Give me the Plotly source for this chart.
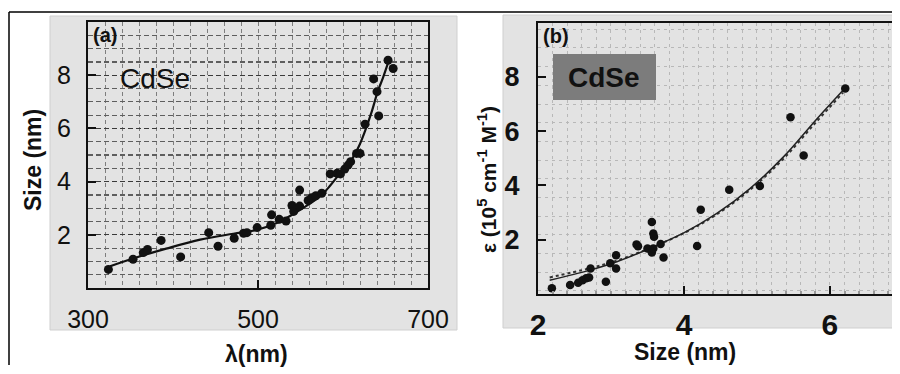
import plotly.graph_objects as go

# ---------------- data: panel (a) ----------------
wavelength_a = [324, 353, 365, 370, 386, 409, 442, 453, 472, 483, 487, 499, 515, 516,
                525, 533, 540, 542, 549, 549, 559, 563, 568, 575, 585, 593, 597, 602,
                606, 609, 616, 620, 626, 642, 636, 640, 653, 659]
size_a = [0.70, 1.08, 1.33, 1.45, 1.79, 1.17, 2.08, 1.57, 1.87, 2.06, 2.08, 2.27, 2.36, 2.75,
          2.58, 2.52, 3.10, 2.88, 3.08, 3.68, 3.29, 3.39, 3.47, 3.56, 4.29, 4.31, 4.29, 4.47,
          4.62, 4.75, 5.06, 5.06, 6.16, 6.47, 7.86, 7.38, 8.56, 8.25]
fit_wl_a = [326, 353, 392, 432, 471, 499, 522, 542, 561, 575, 585, 596, 608, 618, 626, 634,
            641, 647, 653]
fit_size_a = [0.82, 1.11, 1.48, 1.82, 2.04, 2.19, 2.44, 2.79, 3.17, 3.50, 3.85, 4.29, 4.72,
              5.28, 5.91, 6.65, 7.40, 7.90, 8.46]

# ---------------- data: panel (b) ----------------
size_b = [2.19, 2.44, 2.55, 2.61, 2.66, 2.70, 2.72, 2.93, 2.99, 3.07, 3.07, 3.35, 3.37, 3.50,
          3.56, 3.58, 3.59, 3.56, 3.58, 3.68, 3.72, 4.18, 4.23, 4.62, 5.04, 5.46, 5.64, 6.21]
eps_b = [0.20, 0.32, 0.40, 0.50, 0.57, 0.60, 0.93, 0.44, 1.12, 1.42, 0.93, 1.82, 1.75, 1.67,
         2.65, 2.22, 2.10, 1.52, 1.67, 1.83, 1.34, 1.76, 3.10, 3.84, 3.97, 6.51, 5.10, 7.57]
fit_size_b = [2.16, 2.71, 3.08, 3.53, 4.01, 4.45, 4.90, 5.36, 5.82, 6.18]
fit_eps_b = [0.50, 0.87, 1.18, 1.67, 2.26, 2.96, 3.87, 5.04, 6.45, 7.51]
fit2_eps_b = [0.60, 0.94, 1.22, 1.68, 2.25, 2.93, 3.82, 4.97, 6.36, 7.42]

# the page body has an 8px default margin; the figure fills the rest of the 900x374 window
OFF = 8
W, H = 900 - OFF, 374 - OFF
def px(x):
    return max(0.0, (x - OFF) / W)
def py(y):
    return min(1.0, 1 - (y - OFF) / H)

FONT = "Liberation Sans, Arial, sans-serif"

fig = go.Figure()

# panel (a)
fig.add_trace(go.Scatter(x=fit_wl_a, y=fit_size_a, mode="lines",
                         line=dict(color="#111111", width=2.2, shape="spline"),
                         xaxis="x", yaxis="y", hoverinfo="skip"))
fig.add_trace(go.Scatter(x=wavelength_a, y=size_a, mode="markers",
                         marker=dict(color="#111111", size=9),
                         xaxis="x", yaxis="y"))
# panel (b)
fig.add_trace(go.Scatter(x=fit_size_b, y=fit2_eps_b, mode="lines",
                         line=dict(color="#333333", width=2, dash="dot", shape="spline"),
                         xaxis="x2", yaxis="y2", hoverinfo="skip"))
fig.add_trace(go.Scatter(x=fit_size_b, y=fit_eps_b, mode="lines",
                         line=dict(color="#222222", width=1.5, shape="spline"),
                         xaxis="x2", yaxis="y2", hoverinfo="skip"))
fig.add_trace(go.Scatter(x=size_b, y=eps_b, mode="markers",
                         marker=dict(color="#111111", size=8.5),
                         xaxis="x2", yaxis="y2"))

axis_common = dict(showline=True, mirror=True, linecolor="#111111", linewidth=2,
                   ticks="inside", ticklen=8, tickwidth=2, tickcolor="#111111",
                   zeroline=False, layer="above traces", automargin=False,
                   fixedrange=True)

fig.update_layout(
    template="none",
    autosize=False,
    width=W, height=H, margin=dict(l=0, r=0, t=0, b=0, pad=0, autoexpand=False),
    font=dict(family=FONT, color="#111111"),
    paper_bgcolor="white", plot_bgcolor="#e8e8e8", showlegend=False,
    xaxis=dict(axis_common, domain=[px(88), px(428)], range=[300, 700], anchor="y",
               tickvals=[300, 500, 700], tickfont=dict(family=FONT, size=25, color="#111111"),
               ticklabelstandoff=8,
               showgrid=True, gridcolor="#7e7e7e", griddash="4px,3px", gridwidth=1,
               minor=dict(dtick=20, tick0=300, showgrid=True, gridcolor="#7e7e7e",
                          griddash="4px,3px", gridwidth=1, ticks="")),
    yaxis=dict(axis_common, domain=[py(288), py(22)], range=[0, 10], anchor="x",
               tickvals=[2, 4, 6, 8], tickfont=dict(family=FONT, size=25, color="#111111"),
               ticklabelstandoff=10,
               showgrid=True, gridcolor="#3a3a3a", griddash="5px,3px", gridwidth=1.3,
               minor=dict(dtick=0.5, tick0=0, showgrid=True, gridcolor="#5e5e5e",
                          griddash="5px,3px", gridwidth=1.2, ticks="")),
    xaxis2=dict(axis_common, domain=[px(538), 1.0], range=[2, 6.96], anchor="y2",
                tickvals=[2, 4, 6],
                tickfont=dict(family=FONT, size=30, color="#111111", weight="bold"),
                ticklabelstandoff=3,
                showgrid=False,
                minor=dict(dtick=0.2, tick0=2, showgrid=True, gridcolor="#b8b8b8",
                           griddash="3px,4px", gridwidth=1, ticks="inside", ticklen=3,
                           tickcolor="#999999")),
    yaxis2=dict(axis_common, domain=[py(293.7), py(22.7)], range=[0, 10], anchor="x2",
                tickvals=[2, 4, 6, 8],
                tickfont=dict(family=FONT, size=27, color="#111111", weight="bold"),
                ticklabelstandoff=11,
                showgrid=False,
                minor=dict(dtick=0.69, tick0=0.1, showgrid=True, gridcolor="#b8b8b8",
                           griddash="3px,4px", gridwidth=1, ticks="")),
)

shapes = [
    # gray panel backgrounds
    dict(type="rect", xref="paper", yref="paper", x0=px(50), x1=px(457), y0=py(330), y1=py(16),
         fillcolor="#e3e3e3", line=dict(color="#cfcfcf", width=1), layer="below"),
    dict(type="rect", xref="paper", yref="paper", x0=px(503), x1=1.01, y0=py(328), y1=py(15),
         fillcolor="#e3e3e3", line=dict(color="#cfcfcf", width=1), layer="below"),
    # outer frame lines
    dict(type="line", xref="paper", yref="paper", x0=px(9), x1=1.0, y0=py(12), y1=py(12),
         line=dict(color="#000000", width=1.5)),
    dict(type="line", xref="paper", yref="paper", x0=px(9), x1=px(9), y0=py(12), y1=py(365),
         line=dict(color="#000000", width=1.5)),
    # CdSe box in (b)
    dict(type="rect", xref="paper", yref="paper", x0=px(553), x1=px(656), y0=py(100), y1=py(54),
         fillcolor="#7c7c7c", line=dict(width=0), layer="above"),
]
fig.update_layout(shapes=shapes)

def ann(text, x, y, size, bold=False, angle=0, color="#111111"):
    return dict(text=text, xref="paper", yref="paper", x=px(x), y=py(y),
                xanchor="center", yanchor="middle", showarrow=False, textangle=angle,
                font=dict(family=FONT, size=size, color=color,
                          weight="bold" if bold else "normal"))

annotations = [
    ann("(a)", 105, 35, 20, bold=True),
    ann("CdSe", 155, 78, 28),
    ann("Size (nm)", 33, 160, 23, bold=True, angle=-90),
    ann("λ(nm)", 256, 354, 23, bold=True),
    ann("(b)", 556, 36, 20, bold=True),
    ann("CdSe", 604, 77, 28, bold=True),
    ann("ε (10<sup>5</sup> cm<sup>-1</sup> M<sup>-1</sup>)", 487, 180, 21, bold=True, angle=-90),
    ann("Size (nm)", 685, 352, 23, bold=True),
]
fig.update_layout(annotations=annotations)

fig.write_html("out.html", config={"staticPlot": True})
